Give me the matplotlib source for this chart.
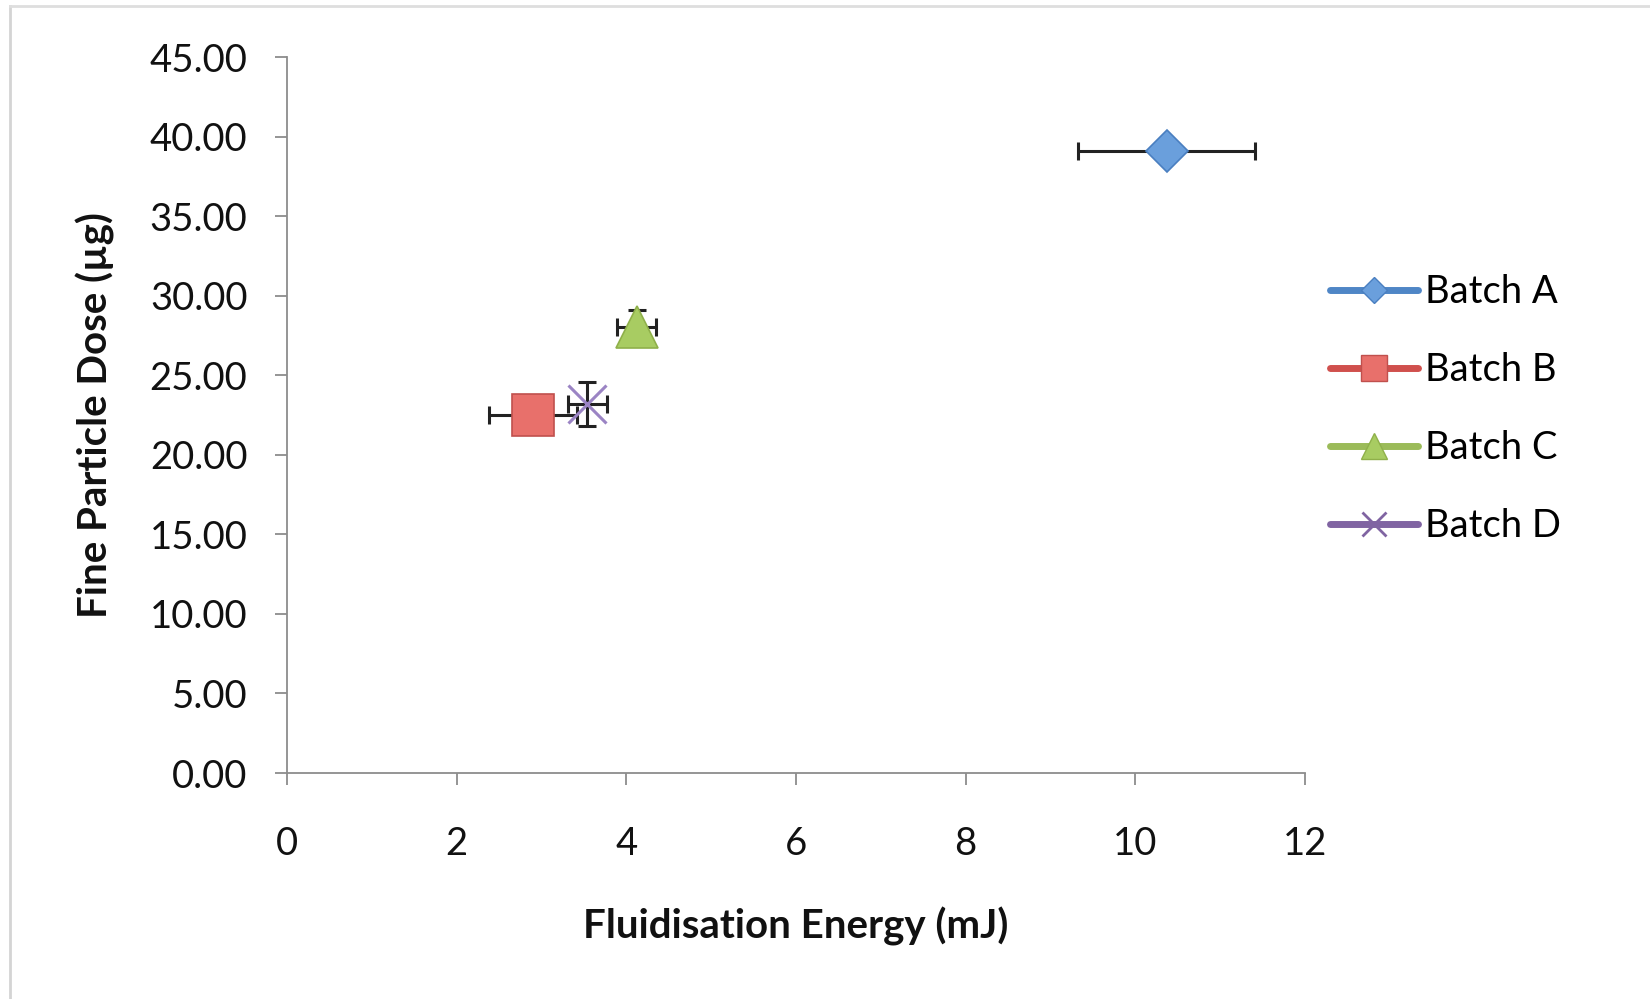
import numpy as np
import matplotlib
matplotlib.use('Agg')
import matplotlib.pyplot as plt
from matplotlib.lines import Line2D

plt.rcParams['font.family'] = ['Lato', 'DejaVu Sans']

# data
batches = ['Batch A', 'Batch B', 'Batch C', 'Batch D']
energy = [10.37, 2.90, 4.12, 3.54]          # mJ
energy_err = [1.04, 0.52, 0.23, 0.23]
dose = [39.1, 22.5, 28.0, 23.2]             # ug
dose_err = [0.0, 0.0, 1.1, 1.4]

markers = ['D', 's', '^', 'x']
msizes = [21, 30, 30, 28]
faces = ['#6a9fdc', '#e8706b', '#a8cc62', '#9b84c4']
edges = ['#4a7fc0', '#c0504d', '#8fb04a', '#8064a2']
lines = ['#4f86c6', '#d0504d', '#9bbb59', '#8064a2']

SIZE = 27.5
LABEL = 29
fig = plt.figure(figsize=(16.5, 9.99), dpi=100)
ax = fig.add_axes([287 / 1650, 1 - 773 / 999, (1305 - 287) / 1650, (773 - 57) / 999])

for i in range(4):
    ax.errorbar(energy[i], dose[i],
                xerr=energy_err[i],
                yerr=dose_err[i] if dose_err[i] > 0 else None,
                fmt='none', ecolor='#222222', elinewidth=2.2,
                capsize=6.5, capthick=2.2, zorder=2)
    ax.plot(energy[i], dose[i], linestyle='none',
            marker=markers[i], markersize=msizes[i],
            markerfacecolor=faces[i],
            markeredgecolor=edges[i] if markers[i] != 'x' else faces[i],
            markeredgewidth=1.2 if markers[i] != 'x' else 2.2,
            zorder=3)

ax.set_xlim(0, 12)
ax.set_ylim(0, 45)
ax.set_xticks(np.arange(0, 13, 2))
ax.set_yticks(np.arange(0, 46, 5))
ax.set_yticklabels([f'{v:.2f}' for v in np.arange(0, 46, 5)])

for s in ['top', 'right']:
    ax.spines[s].set_visible(False)
for s in ['left', 'bottom']:
    ax.spines[s].set_color('#8c8c8c')
    ax.spines[s].set_linewidth(1.3)
ax.tick_params(direction='out', length=8.5, width=1.3, color='#8c8c8c',
               labelsize=SIZE, labelcolor='#111111')
ax.tick_params(axis='x', pad=30)
ax.tick_params(axis='y', pad=20)

fig.text(796 / 1650, 1 - 926 / 999, 'Fluidisation Energy (mJ)',
         ha='center', va='center', fontsize=LABEL, fontweight='bold', color='#111111')
fig.text(95 / 1650, 1 - 415 / 999, 'Fine Particle Dose (\u00b5g)', rotation=90,
         ha='center', va='center', fontsize=LABEL, fontweight='bold', color='#111111')

handles = [Line2D([0], [0], color=lines[i], lw=5, solid_capstyle='round',
                  marker=markers[i], markersize=msizes[i] * 0.62,
                  markerfacecolor=faces[i],
                  markeredgecolor=edges[i] if markers[i] != 'x' else lines[i],
                  markeredgewidth=1.0 if markers[i] != 'x' else 2.0)
           for i in range(4)]
fig.legend(handles, batches, loc='upper left',
           bbox_to_anchor=(1330 / 1650, 1 - 274 / 999),
           frameon=False, fontsize=SIZE, handlelength=2.3, handletextpad=0.2,
           labelspacing=1.1, borderpad=0, borderaxespad=0)

# light chart-area frame (left and top edges)
fig.add_artist(Line2D([10 / 1650, 10 / 1650], [0, 1 - 6 / 999], color='#d4d4d4', lw=2,
                      transform=fig.transFigure))
fig.add_artist(Line2D([10 / 1650, 1], [1 - 6 / 999, 1 - 6 / 999], color='#dedede', lw=2,
                      transform=fig.transFigure))

fig.savefig('out.png', dpi=100)
